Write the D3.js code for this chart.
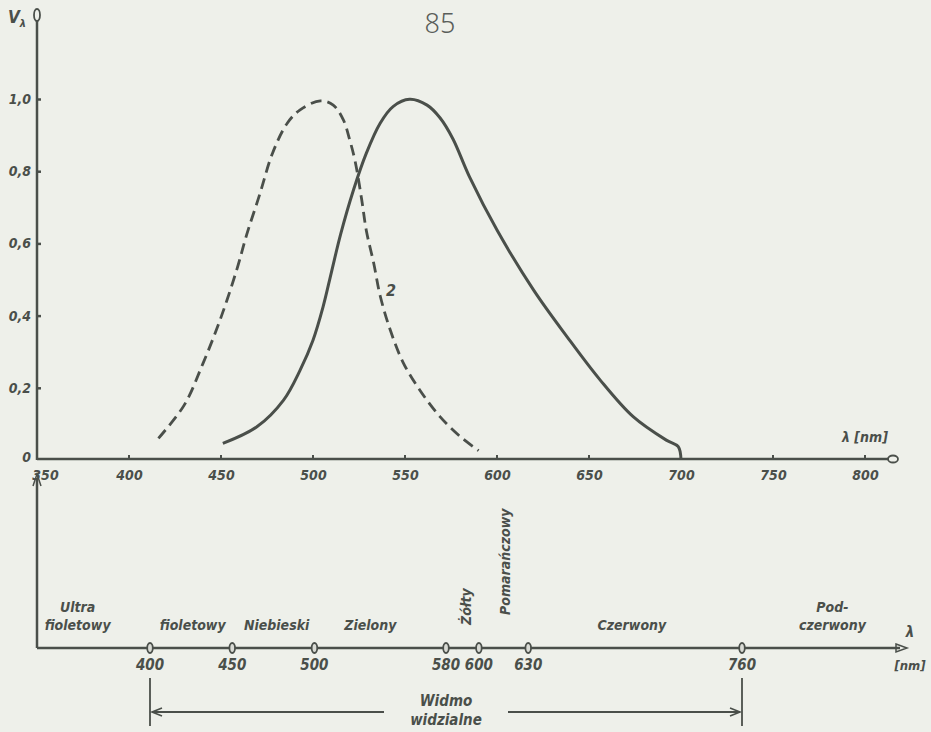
<!DOCTYPE html>
<html><head><meta charset="utf-8">
<script src="https://cdn.jsdelivr.net/npm/d3@7"></script>
<style>
body{margin:0;background:#eef0ea;}
svg{display:block;}
.lbl{font-family:"Liberation Sans Narrow","DejaVu Sans Condensed","DejaVu Sans",sans-serif;font-style:italic;font-weight:bold;fill:#4a4f4a;}
</style></head><body>
<svg id="c" width="931" height="732"></svg>
<script>
// ---- data ----
const xTicks = [350,400,450,500,550,600,650,700,750,800];
const yTicks = [0,0.2,0.4,0.6,0.8,1.0];
const yTickLabels = ["0","0,2","0,4","0,6","0,8","1,0"];
// photopic (solid, curve 1)
const photoNm  = [451,469.5,484,493,500,505.5,510,515,522,529,536.5,543.5,552.5,562,569,576,585,600,620,638,656,674,692,698.5,700];
const photoVal = [0.046,0.092,0.166,0.249,0.332,0.425,0.52,0.625,0.748,0.85,0.933,0.979,0.999,0.983,0.948,0.89,0.785,0.637,0.47,0.342,0.222,0.12,0.055,0.037,0.0];
// scotopic (dashed, curve 2)
const scotoNm  = [416,430,440,449.5,458.5,464,471,478,486,493,504,511,516.5,520,523,526.5,529,533,536.5,542,549,558,569,580,590];
const scotoVal = [0.06,0.152,0.265,0.388,0.526,0.625,0.735,0.85,0.933,0.97,0.995,0.983,0.942,0.886,0.825,0.72,0.635,0.545,0.455,0.36,0.27,0.194,0.12,0.065,0.026];
// spectrum
const specTicks = [400,450,500,580,600,630,760];
const bandNames = [["Ultra","fioletowy"],["fioletowy"],["Niebieski"],["Zielony"],["Żółty"],["Pomarańczowy"],["Czerwony"],["Pod-","czerwony"]];
const bandCenters = [356,426,477,534,592,616,693,815];
const bandRotated = [false,false,false,false,true,true,false,false];
const visibleRange = [400,760];

const ink = "#4a4f4a";
const svg = d3.select("#c");

// scales
const x = d3.scaleLinear().domain([350,800]).range([37,865]);
const y = d3.scaleLinear().domain([0,1]).range([460,99]);
const sx = d3.scaleLinear().domain([400,760]).range([150,742]);

// page number
svg.append("text").attr("x",440).attr("y",33).attr("text-anchor","middle")
  .style("font-family","'Noto Sans',sans-serif").style("font-weight","300")
  .style("font-size","27px").style("fill","#5a5e5a").text("85");

// y axis
svg.append("line").attr("x1",37).attr("x2",37).attr("y1",460).attr("y2",20).attr("stroke",ink).attr("stroke-width",2.5);
svg.append("ellipse").attr("cx",37).attr("cy",15).attr("rx",3).attr("ry",6).attr("fill","none").attr("stroke",ink).attr("stroke-width",1.8);
const yl = svg.append("text").attr("class","lbl").attr("x",8).attr("y",23).style("font-size","17px");
yl.append("tspan").text("V");
yl.append("tspan").attr("dy",4).style("font-size","11px").text("λ");

const yAxis = d3.axisRight(y).tickValues(yTicks.slice(1)).tickSize(4).tickFormat("");
const gy = svg.append("g").attr("transform","translate(37,0)").call(yAxis);
gy.select(".domain").remove();
gy.selectAll("line").attr("stroke",ink).attr("stroke-width",2.5);
svg.selectAll(".ylab").data(yTicks).enter().append("text").attr("class","lbl ylab")
  .attr("x",31).attr("y",(d,i)=> i===0? y(d)+2 : y(d)+5).attr("text-anchor","end")
  .style("font-size","14px").text((d,i)=>yTickLabels[i]);

// x axis
svg.append("line").attr("x1",37).attr("x2",889).attr("y1",459).attr("y2",459).attr("stroke",ink).attr("stroke-width",2.5);
svg.append("ellipse").attr("cx",893).attr("cy",459).attr("rx",5).attr("ry",3.5).attr("fill","none").attr("stroke",ink).attr("stroke-width",1.8);
const xAxis = d3.axisBottom(x).tickValues(xTicks).tickSize(0).tickPadding(11).tickFormat(d=>d);
const gx = svg.append("g").attr("transform","translate(0,459)").call(xAxis);
gx.select(".domain").remove();
gx.selectAll("text").attr("class","lbl").style("font-size","14px")
  .attr("dx",d=> d===350? 8 : 0);
svg.selectAll(".xt").data(xTicks.slice(1)).enter().append("line").attr("class","xt")
  .attr("x1",d=>x(d)).attr("x2",d=>x(d)).attr("y1",455).attr("y2",459).attr("stroke",ink).attr("stroke-width",2);
svg.append("text").attr("class","lbl").attr("x",842).attr("y",442).style("font-size","14px").text("λ [nm]");

// curves
const line = d3.line().x(d=>x(d[0])).y(d=>y(d[1])).curve(d3.curveCatmullRom.alpha(0.5));
svg.append("path").datum(photoNm.map((n,i)=>[n,photoVal[i]])).attr("d",line)
  .attr("fill","none").attr("stroke",ink).attr("stroke-width",3);
svg.append("path").datum(scotoNm.map((n,i)=>[n,scotoVal[i]])).attr("d",line)
  .attr("fill","none").attr("stroke",ink).attr("stroke-width",2.8).attr("stroke-dasharray","11,6");
svg.append("text").attr("class","lbl").attr("x",386).attr("y",296).style("font-size","16px").text("2");

// ---- spectrum ----
const sy = 648;
svg.append("line").attr("x1",37).attr("x2",37).attr("y1",478).attr("y2",sy).attr("stroke",ink).attr("stroke-width",2.5);
svg.append("path").attr("d","M33,486 L37,474 L41,486").attr("fill","none").attr("stroke",ink).attr("stroke-width",1.5);
svg.append("line").attr("x1",37).attr("x2",900).attr("y1",sy).attr("y2",sy).attr("stroke",ink).attr("stroke-width",2.5);
svg.append("path").attr("d","M896,644 L907,648 L896,652 Z").attr("fill","none").attr("stroke",ink).attr("stroke-width",1.5);
svg.selectAll(".st").data(specTicks).enter().append("ellipse").attr("class","st")
  .attr("cx",d=>sx(d)).attr("cy",sy).attr("rx",2.8).attr("ry",5).attr("fill","#d9dbd5").attr("stroke",ink).attr("stroke-width",1.8);
svg.selectAll(".sl").data(specTicks).enter().append("text").attr("class","lbl sl")
  .attr("x",d=>sx(d)).attr("y",sy+22).attr("text-anchor","middle").style("font-size","15px").text(d=>d);
svg.append("text").attr("class","lbl").attr("x",910).attr("y",637).attr("text-anchor","middle").style("font-size","15px").text("λ");
svg.append("text").attr("class","lbl").attr("x",910).attr("y",670).attr("text-anchor","middle").style("font-size","13px").text("[nm]");

bandNames.forEach((lines,i)=>{
  const cx = sx(bandCenters[i]);
  if(bandRotated[i]){
    svg.append("text").attr("class","lbl").attr("transform",`translate(${cx+5},${i===4?625:615}) rotate(-90)`)
      .style("font-size","14px").text(lines[0]);
  } else {
    const n = lines.length;
    lines.forEach((t,j)=>{
      svg.append("text").attr("class","lbl").attr("x",cx).attr("y",630-(n-1-j)*18)
        .attr("text-anchor","middle").style("font-size","14px").text(t);
    });
  }
});

// visible range
const vy = 712;
visibleRange.forEach(v=>{
  svg.append("line").attr("x1",sx(v)).attr("x2",sx(v)).attr("y1",678).attr("y2",726).attr("stroke",ink).attr("stroke-width",1.8);
});
const mid = (sx(visibleRange[0])+sx(visibleRange[1]))/2;
svg.append("line").attr("x1",sx(visibleRange[0])+2).attr("x2",mid-62).attr("y1",vy).attr("y2",vy).attr("stroke",ink).attr("stroke-width",2);
svg.append("line").attr("x1",mid+62).attr("x2",sx(visibleRange[1])-2).attr("y1",vy).attr("y2",vy).attr("stroke",ink).attr("stroke-width",2);
svg.append("path").attr("d",`M${sx(visibleRange[0])+12},${vy-4} L${sx(visibleRange[0])+2},${vy} L${sx(visibleRange[0])+12},${vy+4}`).attr("fill","none").attr("stroke",ink).attr("stroke-width",1.6);
svg.append("path").attr("d",`M${sx(visibleRange[1])-12},${vy-4} L${sx(visibleRange[1])-2},${vy} L${sx(visibleRange[1])-12},${vy+4}`).attr("fill","none").attr("stroke",ink).attr("stroke-width",1.6);
svg.append("text").attr("class","lbl").attr("x",mid).attr("y",706).attr("text-anchor","middle").style("font-size","15px").text("Widmo");
svg.append("text").attr("class","lbl").attr("x",mid).attr("y",725).attr("text-anchor","middle").style("font-size","15px").text("widzialne");
</script>
</body></html>
